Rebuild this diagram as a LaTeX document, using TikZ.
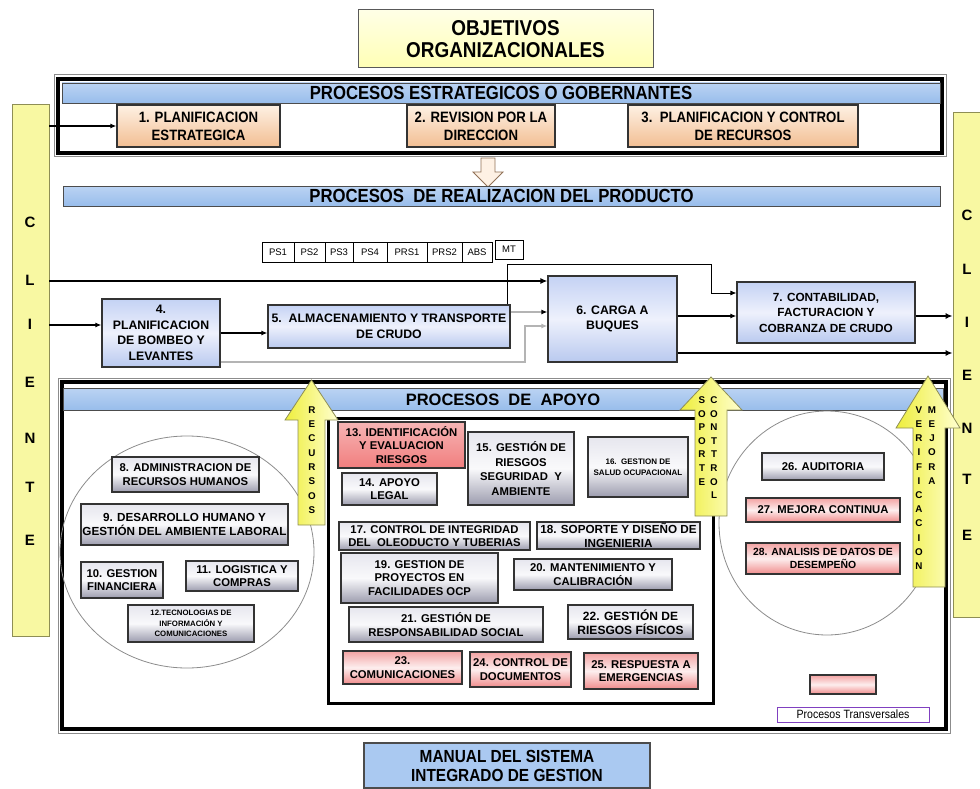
\documentclass[tikz,border=0pt]{standalone}
\usepackage{fontspec}
\setmainfont{Liberation Sans}
\newfontfamily\nrw[FakeStretch=0.88]{Liberation Sans}
\usetikzlibrary{arrows.meta}
\definecolor{ylw}{HTML}{F8F8A2}
\definecolor{ylwB}{HTML}{8E8E55}
\definecolor{objT}{HTML}{FFFFE6}
\definecolor{objB}{HTML}{FFFFB5}
\definecolor{barT}{HTML}{BBD3F3}
\definecolor{barB}{HTML}{98BDEB}
\definecolor{orT}{HTML}{FEF1E4}
\definecolor{orB}{HTML}{F2BE92}
\definecolor{blT}{HTML}{C4D2F4}
\definecolor{blM}{HTML}{EEF1FC}
\definecolor{blB}{HTML}{B9C9EF}
\definecolor{grT}{HTML}{E6E6EE}
\definecolor{grM}{HTML}{F9F9FB}
\definecolor{grB}{HTML}{9C9CAE}
\definecolor{rdT}{HTML}{F3A2A2}
\definecolor{rdM}{HTML}{FDEEEE}
\definecolor{rdB}{HTML}{F08C8C}
\definecolor{arL}{HTML}{EEEE3C}
\definecolor{arR}{HTML}{FFFFD0}
\definecolor{manB}{HTML}{AAC9F1}
\definecolor{ptB}{HTML}{8040C0}
\definecolor{lgrey}{HTML}{B4B4B4}
\definecolor{frameG}{HTML}{8C8C8C}
\tikzset{
  box/.style={draw=black!80, line width=1.2pt, align=center, inner sep=0pt},
  orbox/.style={box, top color=orT, bottom color=orB, font=\nrw\bfseries\fontsize{15}{18}\selectfont},
  blbox/.style={box, top color=blT, bottom color=blB, middle color=blM, font=\bfseries\fontsize{12.3}{15.5}\selectfont},
  grbox/.style={box, top color=grT, bottom color=grB, middle color=grM, font=\bfseries\fontsize{11.3}{13.5}\selectfont},
  rdbox/.style={box, top color=rdT, bottom color=rdB, middle color=rdM, font=\bfseries\fontsize{11.3}{13.5}\selectfont},
  hbar/.style={draw=black!70, line width=0.8pt, top color=barT, bottom color=barB, inner sep=0pt, text height=13.5pt, text depth=0pt},
  psbox/.style={draw=black, line width=0.8pt, fill=white, inner sep=0pt, font=\fontsize{9.5}{11}\selectfont},
  cbar/.style={draw=ylwB, line width=0.8pt, fill=ylw, inner sep=0pt},
  cl/.style={font=\bfseries\fontsize{15}{15}\selectfont, inner sep=0pt},
  al/.style={font=\bfseries\fontsize{9.8}{9.8}\selectfont, inner sep=0pt},
  yarrow/.style={draw=ylwB, line width=0.8pt, left color=arL, right color=arR},
  conn/.style={line width=1pt, -{Latex[length=6pt,width=5pt]}},
  bigconn/.style={line width=1.8pt, -{Latex[length=7pt,width=6pt]}},
  greyconn/.style={draw=lgrey, line width=1.4pt, -{Latex[length=6pt,width=5pt]}},
}
\begin{document}
\begin{tikzpicture}[x=1pt,y=-1pt]
\useasboundingbox (0,0) rectangle (980,789);

% top objective box
\node[box, top color=objT, bottom color=objB, draw=black!65, line width=1pt, minimum width=295pt, minimum height=58pt,
  font=\nrw\bfseries\fontsize{21.5}{22}\selectfont] (obj) at (505.5,39) {OBJETIVOS\\ORGANIZACIONALES};

% strategic frame
\draw[frameG, line width=1pt] (54,75) rectangle (946,157);
\draw[black, line width=3.5pt] (58,79) rectangle (942,153);
\node[hbar, minimum width=878pt, minimum height=20pt, font=\nrw\bfseries\fontsize{19}{19}\selectfont] (bar1) at (501,93) {PROCESOS ESTRATEGICOS O GOBERNANTES};
\node[orbox, minimum width=163pt, minimum height=42pt] (b1) at (198.5,126) {1. PLANIFICACION\\ESTRATEGICA};
\node[orbox, minimum width=148pt, minimum height=42pt] (b2) at (481,126) {2. REVISION POR LA\\DIRECCION};
\node[orbox, minimum width=230pt, minimum height=42pt] (b3) at (743,126) {3.\ \ PLANIFICACION Y CONTROL\\DE RECURSOS};

% hollow arrow
\path[draw=orB!60!black, fill=orT, line width=0.8pt] (481,158) -- (495,158) -- (495,172) -- (503,172) -- (488,187) -- (473,172) -- (481,172) -- cycle;

% realization bar
\node[hbar, minimum width=877pt, minimum height=20pt, font=\nrw\bfseries\fontsize{19}{19}\selectfont] (bar2) at (501.5,196) {PROCESOS\ \ DE REALIZACION DEL PRODUCTO};

% cliente bars
\node[cbar, minimum width=37pt, minimum height=532pt] (lbar) at (30.5,370) {};
\node[cbar, minimum width=42pt, minimum height=505pt] (rbar) at (974,364.5) {};
\foreach \ch/\yy [count=\i] in {C/222,L/280,I/324,E/382,N/438,T/487,E/540}
  \node[cl] (lcl\i) at (30,\yy) {\ch};
\foreach \ch/\yy [count=\i] in {C/215,L/269,I/322,E/375,N/428,T/479,E/535}
  \node[cl] (rcl\i) at (967,\yy) {\ch};

% PS row
\node[psbox, minimum width=32pt, minimum height=20pt] (ps1) at (278,252) {PS1};
\node[psbox, minimum width=31pt, minimum height=20pt] (ps2) at (309.5,252) {PS2};
\node[psbox, minimum width=28pt, minimum height=20pt] (ps3) at (339,252) {PS3};
\node[psbox, minimum width=34pt, minimum height=20pt] (ps4) at (370,252) {PS4};
\node[psbox, minimum width=40pt, minimum height=20pt] (prs1) at (407,252) {PRS1};
\node[psbox, minimum width=35pt, minimum height=20pt] (prs2) at (444.5,252) {PRS2};
\node[psbox, minimum width=30pt, minimum height=20pt] (abs) at (477,252) {ABS};
\node[psbox, minimum width=28pt, minimum height=19pt] (mt) at (509,249.5) {MT};

% realization boxes
\node[blbox, minimum width=118pt, minimum height=68pt] (b4) at (161,333) {4.\\PLANIFICACION\\DE BOMBEO Y\\LEVANTES};
\node[blbox, minimum width=242pt, minimum height=43pt] (b5) at (389,326.5) {5.\ \ ALMACENAMIENTO Y TRANSPORTE\\DE CRUDO};
\node[blbox, minimum width=129pt, minimum height=86pt] (b6) at (612.5,319) {6. CARGA A\\BUQUES};
\node[blbox, minimum width=178pt, minimum height=61pt, font=\bfseries\fontsize{11.8}{15.5}\selectfont] (b7) at (826,312.5) {7. CONTABILIDAD,\\FACTURACION Y\\COBRANZA DE CRUDO};

% connectors
\coordinate (yL) at (0,281);
\coordinate (y4) at (0,325);
\coordinate (y45) at (0,333);
\coordinate (y56) at (0,312);
\coordinate (y67) at (0,316);
\coordinate (y6r) at (0,353);
\coordinate (m1) at (507,264);
\coordinate (m2) at (711,264);
\coordinate (m3) at (711,293);
\coordinate (g1) at (525,362);
\coordinate (g2) at (525,326);
\draw[conn, line width=1.6pt] (lbar.east |- b1.west) -- (b1.west);
\draw[greyconn] (b4.east |- g1) -- (g1) -- (g2) -- (b6.west |- g2);
\draw[greyconn, -{Latex[length=6pt,width=5pt,color=black]}] (b5.east |- y56) -- (b6.west |- y56);
\draw[conn, line width=0.8pt] (b5.north -| m1) -- (m1) -- (m2) -- (m3) -- (b7.west |- m3);
\draw[bigconn] (lbar.east |- yL) -- (b6.west |- yL);
\draw[conn, line width=1.6pt] (lbar.east |- y4) -- (b4.west |- y4);
\draw[conn, line width=1.4pt] (b4.east |- y45) -- (b5.west |- y45);
\draw[conn, line width=1.2pt] (b6.east |- y67) -- (b7.west |- y67);
\draw[bigconn] (b7.east |- y67) -- (rbar.west |- y67);
\draw[bigconn] (b6.east |- y6r) -- (rbar.west |- y6r);

% support frame
\draw[frameG, line width=1pt] (58,378) rectangle (950,733);
\draw[black, line width=3.5pt] (62,382) rectangle (946,729);
\node[hbar, minimum width=880pt, minimum height=22pt, text height=12pt, font=\bfseries\fontsize{16.5}{16.5}\selectfont] (bar3) at (503,399) {PROCESOS\ \ DE\ \ APOYO};

% circles and inner frame
\draw[frameG, line width=0.8pt] (187,552) ellipse [x radius=127pt, y radius=116pt];
\draw[frameG, line width=0.8pt] (827,523) ellipse [x radius=108pt, y radius=112pt];
\draw[black, line width=3pt] (328,418) rectangle (713,703);

% left circle boxes
\node[grbox, minimum width=147pt, minimum height=35pt] (b8) at (185.5,474.5) {8. ADMINISTRACION DE\\RECURSOS HUMANOS};
\node[grbox, minimum width=207pt, minimum height=41pt, font=\bfseries\fontsize{11.7}{14}\selectfont] (b9) at (184.5,524.5) {9. DESARROLLO HUMANO Y\\GESTIÓN DEL AMBIENTE LABORAL};
\node[grbox, minimum width=82pt, minimum height=36pt] (b10) at (122,580) {10. GESTION\\FINANCIERA};
\node[grbox, minimum width=112pt, minimum height=30pt] (b11) at (242,576) {11. LOGISTICA Y\\COMPRAS};
\node[grbox, minimum width=126pt, minimum height=37pt, font=\bfseries\fontsize{7.8}{10.5}\selectfont] (b12) at (191,623.5) {12.TECNOLOGIAS DE\\INFORMACIÓN Y\\COMUNICACIONES};

% central boxes
\node[rdbox, minimum width=127pt, minimum height=46pt, top color=rdT!80!white, middle color=rdB, bottom color=rdB!90!red] (b13) at (401.5,445) {13. IDENTIFICACIÓN\\Y EVALUACION\\RIESGOS};
\node[grbox, minimum width=95pt, minimum height=32pt] (b14) at (389.5,489) {14. APOYO\\LEGAL};
\node[grbox, minimum width=106pt, minimum height=73pt, font=\bfseries\fontsize{11.3}{14.5}\selectfont] (b15) at (521,468.5) {15. GESTIÓN DE\\RIESGOS\\SEGURIDAD\ \ Y\\AMBIENTE};
\node[grbox, minimum width=100pt, minimum height=60pt, font=\bfseries\fontsize{8}{11}\selectfont] (b16) at (638,467) {16.\ \ GESTION DE\\SALUD OCUPACIONAL};
\node[grbox, minimum width=191pt, minimum height=28pt] (b17) at (434.5,536) {17. CONTROL DE INTEGRIDAD\\DEL\ \ OLEODUCTO Y TUBERIAS};
\node[grbox, minimum width=163pt, minimum height=27pt, font=\bfseries\fontsize{11.7}{13.5}\selectfont] (b18) at (618.5,535.5) {18. SOPORTE Y DISEÑO DE\\INGENIERIA};
\node[grbox, minimum width=157pt, minimum height=50pt] (b19) at (419.5,578) {19. GESTION DE\\PROYECTOS EN\\FACILIDADES OCP};
\node[grbox, minimum width=158pt, minimum height=31pt] (b20) at (593,574.5) {20. MANTENIMIENTO Y\\CALIBRACIÓN};
\node[grbox, minimum width=194pt, minimum height=35pt] (b21) at (446,624.5) {21. GESTIÓN DE\\RESPONSABILIDAD SOCIAL};
\node[grbox, minimum width=125pt, minimum height=34pt, font=\bfseries\fontsize{12}{14}\selectfont] (b22) at (630.5,622) {22. GESTIÓN DE\\RIESGOS FÍSICOS};
\node[rdbox, minimum width=119pt, minimum height=33pt] (b23) at (402.5,667.5) {23.\\COMUNICACIONES};
\node[rdbox, minimum width=101pt, minimum height=35pt] (b24) at (520.5,669.5) {24. CONTROL DE\\DOCUMENTOS};
\node[rdbox, minimum width=114pt, minimum height=36pt] (b25) at (641,671) {25. RESPUESTA A\\EMERGENCIAS};

% right circle boxes
\node[grbox, minimum width=122pt, minimum height=27pt] (b26) at (823,466.5) {26. AUDITORIA};
\node[rdbox, minimum width=154pt, minimum height=24pt] (b27) at (823,510) {27. MEJORA CONTINUA};
\node[rdbox, minimum width=154pt, minimum height=31pt, font=\bfseries\fontsize{10.4}{13}\selectfont] (b28) at (823,558.5) {28. ANALISIS DE DATOS DE\\DESEMPEÑO};
\node[rdbox, minimum width=66pt, minimum height=19pt] (blank) at (843,684.5) {};
\node[draw=ptB, line width=1pt, fill=white, inner sep=0pt, minimum width=152pt, minimum height=15pt,
  font=\nrw\fontsize{12}{12}\selectfont] (pt) at (853,714.5) {Procesos Transversales};

% yellow arrows
\path[yarrow] (298,525) -- (298,420) -- (285,420) -- (311.5,380) -- (338,420) -- (325,420) -- (325,525) -- cycle;
\foreach \ch [count=\i] in {R,E,C,U,R,S,O,S}
  \node[al] (rec\i) at (312,{395.7+14.3*\i}) {\ch};
\path[yarrow] (695,516) -- (695,410) -- (680,410) -- (711,377) -- (742,410) -- (727,410) -- (727,516) -- cycle;
\foreach \ch [count=\i] in {S,O,P,O,R,T,E}
  \node[al] (sop\i) at (702,{386.5+13.6*\i}) {\ch};
\foreach \ch [count=\i] in {C,O,N,T,T,R,O,L}
  \node[al] (con\i) at (714,{386.5+13.6*\i}) {\ch};
\path[yarrow] (913,587) -- (913,428) -- (896,428) -- (928,376) -- (960,428) -- (945,428) -- (945,587) -- cycle;
\foreach \ch [count=\i] in {V,E,R,I,F,I,C,A,C,I,O,N}
  \node[al] (ver\i) at (919,{395.8+14.2*\i}) {\ch};
\foreach \ch [count=\i] in {M,E,J,O,R,A}
  \node[al] (mej\i) at (932,{395.8+14.2*\i}) {\ch};

% manual box
\node[box, fill=manB, draw=black!70, line width=1.2pt, minimum width=286pt, minimum height=45pt,
  font=\nrw\bfseries\fontsize{17.5}{19}\selectfont] (man) at (507,765.5) {MANUAL DEL SISTEMA\\INTEGRADO DE GESTION};
\end{tikzpicture}
\end{document}
